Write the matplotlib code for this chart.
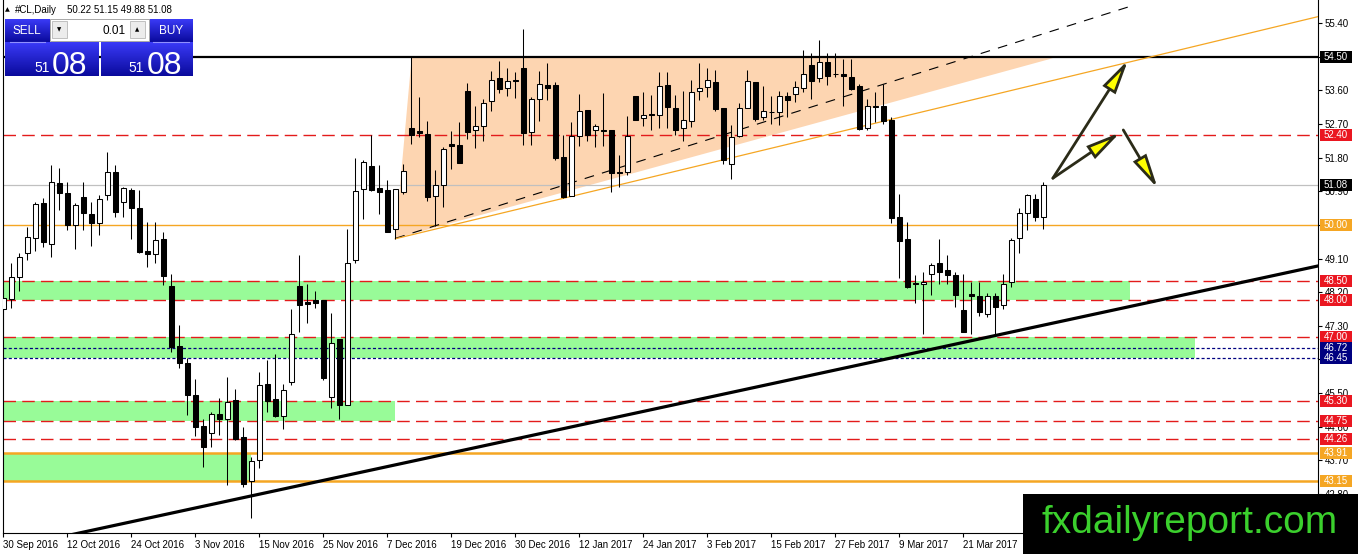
import numpy as np
import matplotlib
matplotlib.use("Agg")
import matplotlib.pyplot as plt
from matplotlib.patches import Rectangle, Polygon
from matplotlib.colors import LinearSegmentedColormap

plt.rcParams['font.family'] = ['Liberation Sans', 'DejaVu Sans']
plt.rcParams['lines.scale_dashes'] = False

# daily candles, 30 Sep 2016 .. 3 Apr 2017
opens = [47.74, 48.01, 48.60, 49.24, 49.64, 50.58, 49.48, 51.11, 50.85, 50.00,
         50.74, 50.28, 50.06, 50.79, 51.41, 50.62, 50.93, 50.44, 49.30, 49.21,
         49.62, 48.37, 46.76, 46.31, 45.45, 44.62, 44.42, 44.94, 44.80, 45.31,
         44.33, 43.16, 43.71, 45.74, 45.33, 44.89, 45.80, 48.36, 47.94, 47.99,
         47.99, 45.40, 46.94, 45.19, 49.06, 50.95, 51.57, 50.98, 50.93, 49.88,
         50.89, 52.58, 52.51, 52.42, 50.78, 51.08, 52.16, 52.13, 53.58, 52.54,
         52.65, 53.31, 53.92, 53.65, 53.89, 54.21, 52.49, 53.38, 53.74, 53.74,
         51.82, 50.78, 52.38, 53.07, 52.55, 52.54, 52.54, 51.42, 51.42, 53.45,
         52.85, 52.96, 52.94, 53.74, 53.14, 52.58, 52.78, 53.58, 53.70, 53.81,
         53.14, 51.64, 52.38, 53.14, 53.81, 52.89, 53.02, 53.01, 53.46, 53.50,
         53.65, 54.29, 53.92, 54.37, 54.04, 54.05, 53.95, 53.71, 52.58, 53.19,
         53.18, 52.80, 50.22, 49.62, 48.44, 48.43, 48.68, 48.99, 48.79, 48.67,
         47.72, 48.15, 48.10, 47.63, 48.10, 47.87, 48.46, 49.64, 50.31, 50.68,
         50.22]
highs = [48.28, 48.99, 49.24, 49.95, 50.62, 50.71, 51.60, 51.51, 51.16, 50.58,
         51.14, 50.60, 50.80, 51.95, 51.59, 51.02, 50.98, 50.93, 50.09, 50.09,
         49.80, 48.70, 47.32, 46.43, 45.89, 44.82, 45.00, 45.38, 45.94, 45.61,
         44.60, 43.80, 46.06, 46.39, 46.56, 45.74, 47.76, 49.19, 48.41, 48.24,
         48.00, 47.65, 46.95, 49.88, 51.78, 51.73, 52.40, 51.60, 51.20, 50.96,
         51.64, 54.53, 53.41, 52.78, 51.47, 52.09, 52.51, 52.74, 53.80, 53.18,
         53.36, 54.12, 54.38, 54.21, 54.08, 55.24, 53.43, 54.12, 54.34, 53.83,
         52.40, 52.76, 53.50, 53.07, 52.71, 53.54, 52.54, 51.87, 52.91, 53.45,
         53.56, 53.47, 54.08, 54.08, 53.47, 53.59, 53.89, 54.34, 54.21, 54.14,
         53.14, 52.67, 53.25, 54.14, 53.81, 53.71, 53.45, 53.59, 53.56, 53.86,
         54.68, 54.61, 54.94, 54.61, 54.61, 54.43, 54.43, 53.77, 53.37, 53.56,
         53.77, 52.89, 50.82, 50.08, 48.66, 48.75, 48.99, 49.61, 49.19, 48.75,
         48.70, 48.48, 48.48, 48.17, 48.17, 48.70, 49.64, 50.46, 50.84, 50.82,
         51.15]
lows = [47.01, 47.77, 48.24, 49.06, 49.31, 49.42, 49.13, 50.40, 49.86, 49.35,
        49.86, 49.44, 49.73, 50.67, 50.22, 50.20, 49.61, 49.26, 48.87, 48.99,
        48.39, 46.61, 46.18, 44.91, 44.35, 43.53, 44.07, 44.38, 43.04, 44.24,
        43.00, 42.15, 43.51, 45.00, 44.86, 44.53, 45.71, 47.14, 47.38, 47.79,
        45.85, 45.11, 44.80, 45.18, 48.97, 50.17, 50.91, 50.28, 49.80, 49.62,
        50.84, 52.16, 52.34, 50.64, 49.98, 50.48, 51.49, 51.66, 52.31, 52.06,
        52.25, 53.04, 53.54, 53.46, 53.40, 52.13, 52.13, 52.79, 53.34, 51.73,
        50.71, 50.78, 52.11, 52.25, 52.09, 52.11, 50.89, 51.02, 51.33, 52.80,
        52.64, 52.54, 52.58, 52.58, 52.40, 52.25, 52.63, 53.34, 53.41, 53.05,
        51.63, 51.22, 52.36, 53.14, 52.78, 52.80, 52.70, 52.67, 52.89, 53.29,
        53.56, 53.37, 53.83, 53.74, 53.95, 53.18, 53.61, 52.54, 52.54, 52.76,
        52.71, 50.04, 48.58, 48.30, 47.90, 47.08, 48.12, 48.43, 48.43, 47.81,
        47.14, 47.09, 47.56, 47.54, 47.05, 47.76, 48.34, 49.26, 49.86, 50.11,
        49.88]
closes = [48.04, 48.61, 49.15, 49.67, 50.56, 49.55, 51.14, 50.85, 50.00, 50.52,
          50.31, 50.04, 50.69, 51.41, 50.35, 50.98, 50.46, 49.28, 49.21, 49.60,
          48.64, 46.74, 46.31, 45.45, 44.60, 44.07, 44.94, 44.80, 45.27, 44.26,
          43.07, 43.68, 45.73, 45.30, 44.88, 45.58, 47.08, 47.87, 47.88, 47.92,
          45.91, 46.85, 45.19, 48.97, 50.90, 51.67, 50.93, 50.89, 49.82, 50.96,
          51.45, 52.40, 52.45, 50.75, 51.06, 52.03, 52.12, 51.66, 52.49, 52.65,
          53.25, 53.89, 53.63, 53.85, 53.86, 52.47, 53.36, 53.76, 53.67, 51.78,
          50.75, 52.38, 53.04, 52.40, 52.64, 52.52, 51.38, 51.39, 52.38, 52.82,
          52.94, 52.94, 53.71, 53.16, 52.55, 52.80, 53.56, 53.65, 53.87, 53.09,
          51.73, 52.36, 53.14, 53.86, 52.83, 53.04, 53.01, 53.46, 53.34, 53.70,
          54.03, 53.86, 54.37, 53.99, 54.03, 53.99, 53.63, 52.56, 53.19, 53.16,
          52.78, 50.19, 49.57, 48.34, 48.42, 48.48, 48.92, 48.75, 48.66, 48.12,
          47.14, 48.10, 47.66, 48.10, 47.81, 48.43, 49.59, 50.33, 50.80, 50.22,
          51.08]

date_bars = [0, 8, 16, 24, 32, 40, 48, 56, 64, 72, 80, 88, 96, 104, 112, 120, 128]
date_labels = ['30 Sep 2016', '12 Oct 2016', '24 Oct 2016', '3 Nov 2016', '15 Nov 2016',
               '25 Nov 2016', '7 Dec 2016', '19 Dec 2016', '30 Dec 2016', '12 Jan 2017',
               '24 Jan 2017', '3 Feb 2017', '15 Feb 2017', '27 Feb 2017', '9 Mar 2017',
               '21 Mar 2017', '31 Mar 2017']
price_ticks = [42.80, 43.70, 44.60, 45.50, 46.40, 47.30, 48.20, 49.10, 50.00,
               50.90, 51.80, 52.70, 53.60, 54.50, 55.40]

# horizontal levels
resistance = 54.50
bid = 51.08
red_levels = [52.40, 48.50, 48.00, 47.00, 45.30, 44.75, 44.26]
navy_levels = [46.72, 46.45]
orange_thin = [50.00]
orange_thick = [43.91, 43.15]

# green zones: (low, high, last bar)
zones = [(48.00, 48.50, 140.8), (46.45, 47.00, 149.0),
         (44.75, 45.30, 49.0), (43.15, 43.91, 31.0)]

# triangle + trend lines as (bar, price) anchors
triangle = [(51.05, 54.50), (49.0, 49.64), (131.2, 54.46)]
dash_line = [(49.0, 49.64), (141.5, 55.89)]
orange_line = [(49.0, 49.63), (164.3, 55.57)]
support_line = [(0.0, 41.32), (164.3, 48.90)]
arrows = [((131.2, 51.25), (140.6, 54.41)),
          ((131.2, 51.25), (139.6, 52.47)),
          ((140.0, 52.54), (144.3, 50.98))]

W, H = 1358, 554
RED = '#e31b1b'
ORANGE = '#f5a623'
NAVY = '#000080'

fig = plt.figure(figsize=(W / 100, H / 100), dpi=100)
fig.patch.set_facecolor('white')
ax = fig.add_axes([3 / W, (H - 533) / H, 1315 / W, 533 / H])
ax.set_xlim(-0.04, 164.34)
ax.set_ylim(41.758, 56.017)

for lo, hi, end in zones:
    ax.add_patch(Rectangle((-0.04, lo), end + 0.04, hi - lo, fc='#98fb98', ec='none', zorder=1))
ax.add_patch(Polygon(triangle, closed=True, fc='#fdd5b1', ec='none', zorder=1))

ax.axhline(resistance, color='black', lw=1.6, zorder=3)
ax.axhline(bid, color='#c0c0c0', lw=0.9, zorder=2)
for p in red_levels:
    ax.axhline(p, color=RED, lw=1.0, dashes=(9, 4.5), zorder=2)
for p in navy_levels:
    ax.axhline(p, color=NAVY, lw=0.9, dashes=(2.2, 1.6), zorder=2)
for p in orange_thin:
    ax.axhline(p, color=ORANGE, lw=1.0, zorder=2)
for p in orange_thick:
    ax.axhline(p, color=ORANGE, lw=1.8, zorder=2)

(x0, y0), (x1, y1) = dash_line
ax.plot([x0, x1], [y0, y1], color='black', lw=0.8, dashes=(7, 6), zorder=3)
(x0, y0), (x1, y1) = orange_line
ax.plot([x0, x1], [y0, y1], color=ORANGE, lw=0.9, zorder=3)
(x0, y0), (x1, y1) = support_line
ax.plot([x0, x1], [y0, y1], color='black', lw=2.3, zorder=3)

# candles
o = np.array(opens); h = np.array(highs); l = np.array(lows); c = np.array(closes)
idx = np.arange(len(o))
ax.vlines(idx, l, h, color='black', lw=0.75, zorder=5)
body_lo = np.minimum(o, c)
body_h = np.maximum(np.abs(c - o), 0.005)
ax.bar(idx, body_h, bottom=body_lo, width=0.6,
       color=np.where(c >= o, 'white', 'black'), edgecolor='black', linewidth=0.75, zorder=6)

for (sx, sy), (ex, ey) in arrows:
    ax.annotate('', xy=(ex, ey), xytext=(sx, sy), zorder=8,
                arrowprops=dict(arrowstyle='-|>,head_length=0.5,head_width=0.11',
                                mutation_scale=40, fc='#ffff00', ec='#2b2b18', lw=2.0,
                                shrinkA=0, shrinkB=0, joinstyle='miter'))

ax.spines['top'].set_visible(False)
for s in ['left', 'right', 'bottom']:
    ax.spines[s].set_linewidth(0.8)
ax.yaxis.tick_right()
ax.set_yticks(price_ticks)
ax.set_yticklabels(['%.2f' % v for v in price_ticks])
ax.set_xticks(date_bars)
ax.set_xticklabels(date_labels, ha='left')
ax.tick_params(axis='y', direction='out', length=3, width=0.8, pad=2, labelsize=7)
ax.tick_params(axis='x', direction='out', length=3, width=0.8, pad=2, labelsize=7)

# overlay in image pixels (y down)
ov = fig.add_axes([0, 0, 1, 1], zorder=10)
ov.patch.set_alpha(0)
ov.axis('off')

def img_y(price):
    return H - ax.transData.transform((0, price))[1]

box_levels = ([(resistance, 'black'), (bid, 'black')] + [(p, '#ea1620') for p in red_levels]
              + [(p, NAVY) for p in navy_levels]
              + [(p, ORANGE) for p in orange_thin + orange_thick])
for p, col in box_levels:
    yy = img_y(p)
    ov.add_patch(Rectangle((1320, yy - 6), 32, 12, fc=col, ec='none'))
    ov.text(1336, yy, '%.2f' % p, color='white', fontsize=7, ha='center', va='center')

blue = LinearSegmentedColormap.from_list('mtblue', ['#3a3af7', '#0a0a9c'])
grad = np.linspace(0, 1, 64).reshape(-1, 1)

def blue_box(xa, ya, xb, yb):
    ov.imshow(grad, cmap=blue, extent=(xa, xb, yb, ya), aspect='auto', origin='upper',
              interpolation='bilinear', zorder=2)

for xa, ya, xb, yb in [(5, 19, 50, 42), (149, 19, 193, 42), (5, 42, 99, 76), (101, 42, 193, 76)]:
    blue_box(xa, ya, xb, yb)
ov.plot([10, 45], [42, 42], color='#9090ff', lw=0.8, zorder=3)
ov.plot([153, 189], [42, 42], color='#9090ff', lw=0.8, zorder=3)
ov.add_patch(Rectangle((50, 19), 99, 22, fc='white', ec='#a8a8a8', lw=0.7, zorder=3))
ov.add_patch(Rectangle((52, 21), 15, 17, fc='#ececec', ec='#b8b8b8', lw=0.6, zorder=4))
ov.add_patch(Rectangle((130, 21), 15, 17, fc='#ececec', ec='#b8b8b8', lw=0.6, zorder=4))
ov.text(59.5, 30, '▼', fontsize=4, ha='center', va='center', zorder=5, family=['DejaVu Sans'])
ov.text(137.5, 30, '▲', fontsize=4, ha='center', va='center', zorder=5, family=['DejaVu Sans'])
ov.text(126, 30.5, '0.01', fontsize=8.5, ha='right', va='center', zorder=5)
ov.text(27, 31, 'SELL', color='white', fontsize=8.5, ha='center', va='center', zorder=5)
ov.text(171, 31, 'BUY', color='white', fontsize=8.5, ha='center', va='center', zorder=5)
for xs, xb in [(50, 52), (144, 147)]:
    ov.text(xs, 72, '51', color='white', fontsize=10, ha='right', va='baseline', zorder=5)
    ov.text(xb, 74, '08', color='white', fontsize=23, ha='left', va='baseline', zorder=5)

ov.text(7.5, 10, '▲', fontsize=4.5, ha='center', va='center', family=['DejaVu Sans'])
ov.text(15, 10, '#CL,Daily', fontsize=7, ha='left', va='center')
ov.text(67, 10, '%.2f %.2f %.2f %.2f' % (opens[-1], highs[-1], lows[-1], closes[-1]),
        fontsize=7, ha='left', va='center')

ov.add_patch(Rectangle((1023, 494), 335, 60, fc='black', ec='none', zorder=6))
ov.text(1190, 533, 'fxdailyreport.com', color='#3bd02d', fontsize=28, ha='center',
        va='baseline', zorder=7)

ov.set_xlim(0, W)
ov.set_ylim(H, 0)

fig.savefig('out.png', dpi=100)
